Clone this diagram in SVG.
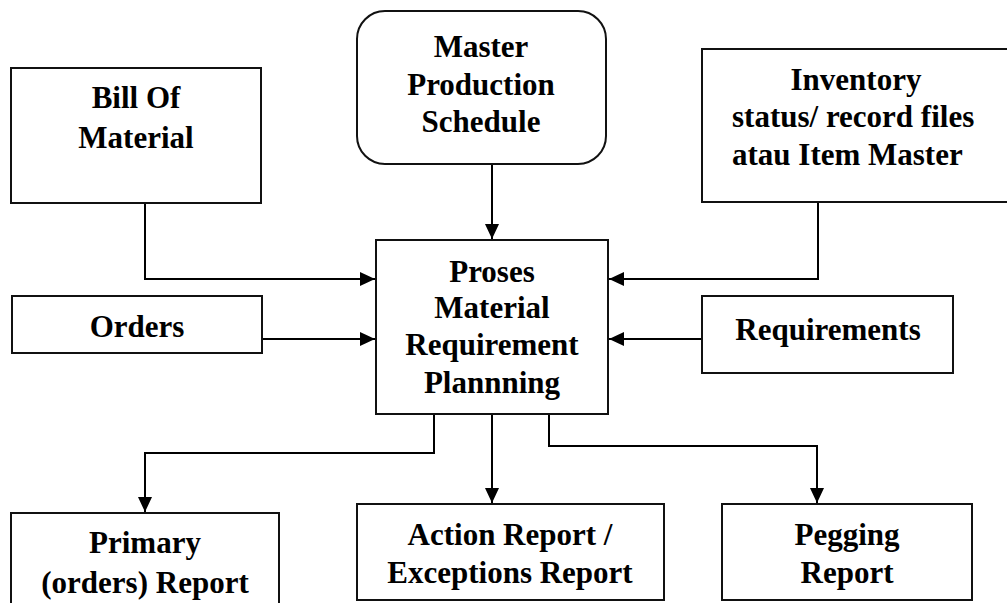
<svg xmlns="http://www.w3.org/2000/svg" width="1007" height="603" viewBox="0 0 1007 603">
<style>
.box{fill:#fff;stroke:#111;stroke-width:2}
.t{font-family:"Liberation Serif","Times New Roman",serif;font-weight:bold;font-size:31px;fill:#000;text-anchor:middle}
.ts{text-anchor:start}
.c{fill:none;stroke:#000;stroke-width:2}
</style>
<defs>
<marker id="ah" markerUnits="userSpaceOnUse" markerWidth="16" markerHeight="14" refX="15" refY="7" orient="auto">
<path d="M0,0 L15,7 L0,14 Z" fill="#000"/>
</marker>
</defs>
<rect width="1007" height="603" fill="#fff"/>
<g id="connectors">
<path class="c" d="M492,164 V239" marker-end="url(#ah)"/>
<path class="c" d="M145,203 V279 H375" marker-end="url(#ah)"/>
<path class="c" d="M262,339 H375" marker-end="url(#ah)"/>
<path class="c" d="M818,202 V279 H609" marker-end="url(#ah)"/>
<path class="c" d="M702,339 H609" marker-end="url(#ah)"/>
<path class="c" d="M434,414 V453 H145 V512" marker-end="url(#ah)"/>
<path class="c" d="M492,403 V503" marker-end="url(#ah)"/>
<path class="c" d="M549,408 V446 H817 V503" marker-end="url(#ah)"/>
</g>
<g id="bom">
<rect class="box" x="11" y="68" width="250" height="135"/>
<text class="t" x="136" y="108">Bill Of</text>
<text class="t" x="136" y="148">Material</text>
</g>
<g id="mps">
<rect class="box" x="357" y="11" width="249" height="153" rx="28" ry="28"/>
<text class="t" x="481" y="57">Master</text>
<text class="t" x="481" y="95">Production</text>
<text class="t" x="481" y="132">Schedule</text>
</g>
<g id="inventory">
<rect class="box" x="702" y="49" width="310" height="153"/>
<text class="t" x="856" y="90">Inventory</text>
<text class="t ts" x="732" y="127">status/ record files</text>
<text class="t ts" x="732" y="165">atau Item Master</text>
</g>
<g id="orders">
<rect class="box" x="12" y="296" width="250" height="57"/>
<text class="t" x="137" y="337">Orders</text>
</g>
<g id="mrp">
<rect class="box" x="376" y="240" width="232" height="174"/>
<text class="t" x="492" y="282">Proses</text>
<text class="t" x="492" y="318">Material</text>
<text class="t" x="492" y="355">Requirement</text>
<text class="t" x="492" y="393">Plannning</text>
</g>
<g id="requirements">
<rect class="box" x="702" y="296" width="251" height="77"/>
<text class="t" x="828" y="340">Requirements</text>
</g>
<g id="primary">
<rect class="box" x="11" y="513" width="268" height="100"/>
<text class="t" x="145" y="553">Primary</text>
<text class="t" x="145" y="593">(orders) Report</text>
</g>
<g id="action">
<rect class="box" x="357" y="504" width="307" height="96"/>
<text class="t" x="510" y="545">Action Report /</text>
<text class="t" x="510" y="583">Exceptions Report</text>
</g>
<g id="pegging">
<rect class="box" x="722" y="504" width="250" height="96"/>
<text class="t" x="847" y="545">Pegging</text>
<text class="t" x="847" y="583">Report</text>
</g>
</svg>
